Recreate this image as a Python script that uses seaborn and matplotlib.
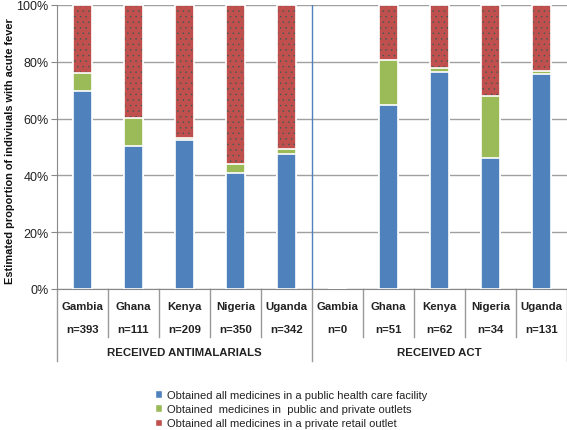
import matplotlib
matplotlib.use("Agg")
import matplotlib.pyplot as plt
import seaborn as sns
import pandas as pd
import numpy as np
from matplotlib.patches import Patch
import matplotlib.colors as mcolors
import matplotlib.transforms as mtransforms

countries = ["Gambia", "Ghana", "Kenya", "Nigeria", "Uganda",
             "Gambia", "Ghana", "Kenya", "Nigeria", "Uganda"]
n_labels = ["n=393", "n=111", "n=209", "n=350", "n=342",
            "n=0", "n=51", "n=62", "n=34", "n=131"]
groups = ["RECEIVED ANTIMALARIALS", "RECEIVED ACT"]
public_only = [69.6, 50.4, 52.3, 41.0, 47.4, 0.0, 64.8, 76.4, 46.0, 75.6]
mixed = [6.4, 9.8, 1.0, 3.1, 1.9, 0.0, 15.8, 1.5, 21.9, 1.2]
private_only = [24.0, 39.8, 46.7, 55.9, 50.7, 0.0, 19.4, 22.1, 32.1, 23.2]
series_names = ["Obtained all medicines in a public health care facility",
                "Obtained  medicines in  public and private outlets",
                "Obtained all medicines in a private retail outlet"]
colors = ["#4F81BD", "#9BBB59", "#C0504D"]

plt.rcParams["font.family"] = ["Liberation Sans", "DejaVu Sans"]
plt.rcParams["hatch.linewidth"] = 0.3

keys = [f"{i}" for i in range(len(countries))]
df = pd.DataFrame({"key": keys, "blue": public_only, "green": mixed, "red": private_only})
df["c_green"] = df["blue"] + df["green"]
df["c_red"] = df["c_green"] + df["red"]

W, H = 567, 431
fig = plt.figure(figsize=(W / 100, H / 100), dpi=100)
ax = fig.add_axes([57 / W, (H - 290) / H, 510 / W, 284 / H])

sns.barplot(data=df, x="key", y="c_red", order=keys, color=colors[2], width=0.38,
            saturation=1, edgecolor="white", linewidth=1.2, ax=ax, zorder=3)
for p in ax.patches:
    p.set_hatch("...")
    p._hatch_color = mcolors.to_rgba("#3a5a55")
sns.barplot(data=df, x="key", y="c_green", order=keys, color=colors[1], width=0.38,
            saturation=1, edgecolor="white", linewidth=1.2, ax=ax, zorder=3)
sns.barplot(data=df, x="key", y="blue", order=keys, color=colors[0], width=0.38,
            saturation=1, edgecolor="white", linewidth=1.2, ax=ax, zorder=3)

ax.set_xlim(-0.5, 9.5)
ax.set_ylim(0, 100)
ax.set_yticks([0, 20, 40, 60, 80, 100])
ax.set_yticklabels([f"{v}%" for v in [0, 20, 40, 60, 80, 100]], fontsize=9, color="#222222")
ax.yaxis.grid(True, color="#a0a0a0", linewidth=1, zorder=0)
ax.set_axisbelow(True)
ax.tick_params(axis="y", length=4, color="#888888", pad=2)
ax.set_xticks([])
ax.set_xlabel("")
ax.set_ylabel("Estimated proportion of indiviuals with acute fever", fontsize=7.9,
              fontweight="bold", color="#111111")
ax.yaxis.set_label_coords((15 - 57) / 510, (290 - 151) / 284)
for s in ["top", "right"]:
    ax.spines[s].set_visible(False)
ax.spines["left"].set_color("#888888")
ax.spines["bottom"].set_color("#888888")

# blue divider between groups
ax.axvline(4.5, color="#4F81BD", linewidth=1, zorder=4)

# category table below axes
trans = mtransforms.blended_transform_factory(ax.transData, ax.transAxes)
ph = 284.0
def yf(py):
    return -(py - 290) / ph

for i in range(11):
    xb = i - 0.5
    bottom = 362 if i in (0, 5, 10) else 338
    ax.plot([xb, xb], [0, yf(bottom)], transform=trans, color="#999999",
            linewidth=1, clip_on=False)
for i, (c, n) in enumerate(zip(countries, n_labels)):
    ax.text(i, yf(307), c, transform=trans, ha="center", va="center",
            fontsize=8.2, fontweight="bold", color="#222222")
    ax.text(i, yf(330), n, transform=trans, ha="center", va="center",
            fontsize=8.2, fontweight="bold", color="#222222")
for gi, g in enumerate(groups):
    ax.text(2 + 5 * gi, yf(353), g, transform=trans, ha="center", va="center",
            fontsize=8.2, fontweight="bold", color="#222222")

handles = [Patch(facecolor=c, edgecolor="white") for c in colors]
leg = fig.legend(handles, series_names, loc="upper left",
                 bbox_to_anchor=(149 / W, 1 - 385 / H), frameon=False,
                 fontsize=8.0, handlelength=0.7, handleheight=0.7,
                 handletextpad=0.4, labelspacing=0.4, borderpad=0)
for t in leg.get_texts():
    t.set_color("#222222")

fig.savefig("out.png", dpi=100)
